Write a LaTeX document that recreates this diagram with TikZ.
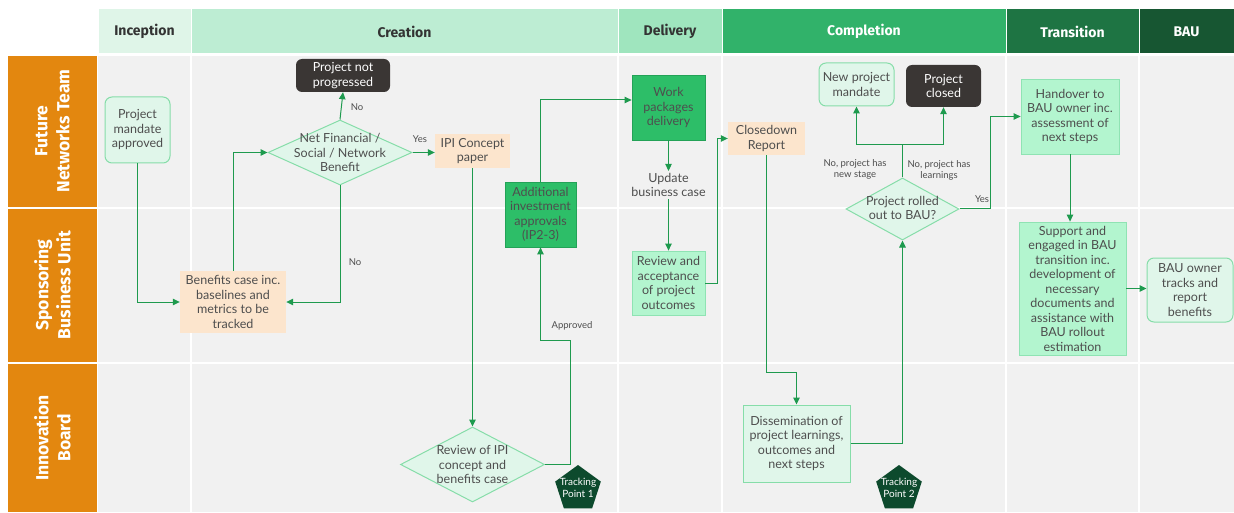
\documentclass[tikz,border=0pt]{standalone}
\usepackage{fontspec}
\setmainfont{Lato}
\newfontfamily\hdrfont{Fira Sans}
\usetikzlibrary{arrows.meta,shapes.geometric}
\definecolor{lanebg}{HTML}{F1F1F1}
\definecolor{orangelane}{HTML}{E3870F}
\definecolor{hInc}{HTML}{DFF5E8}
\definecolor{hCre}{HTML}{BDEDD3}
\definecolor{hDel}{HTML}{9FE5BE}
\definecolor{hCom}{HTML}{31B26A}
\definecolor{hTra}{HTML}{1E7443}
\definecolor{hBau}{HTML}{175632}
\definecolor{mintfill}{HTML}{E0F6EA}
\definecolor{mintdraw}{HTML}{86DDA9}
\definecolor{darkbox}{HTML}{3A3634}
\definecolor{peach}{HTML}{FCE5CD}
\definecolor{gfill}{HTML}{2DBE68}
\definecolor{gdraw}{HTML}{23A257}
\definecolor{lgfill}{HTML}{B3F5CF}
\definecolor{lgdraw}{HTML}{8FE3B3}
\definecolor{conn}{HTML}{1E9A4E}
\definecolor{tpcol}{HTML}{0D4A2D}
\definecolor{txt}{HTML}{4E4E4E}
\definecolor{hdrtxt}{HTML}{333333}
\tikzset{
  hdr/.style={inner sep=0pt, minimum height=45pt, draw=white, line width=1pt,
    font=\hdrfont\bfseries\fontsize{14}{16}\selectfont},
  lanelbl/.style={inner sep=0pt, fill=orangelane},
  lanetxt/.style={rotate=90, text=white, align=center, inner sep=0pt,
    font=\hdrfont\bfseries\fontsize{17.5}{22}\selectfont},
  base/.style={inner sep=0pt, align=center, text=txt, font=\fontsize{12.5}{14.5}\selectfont},
  mintbox/.style={base, fill=mintfill, draw=mintdraw, line width=1pt, rounded corners=7pt},
  darkrbox/.style={base, fill=darkbox, text=white, rounded corners=6pt},
  peachbox/.style={base, fill=peach},
  greenbox/.style={base, fill=gfill, draw=gdraw, line width=0.8pt},
  lgbox/.style={base, fill=lgfill, draw=lgdraw, line width=0.8pt},
  dmint/.style={base, fill=mintfill, draw=mintdraw, line width=1pt},
  diashape/.style={diamond, inner sep=0pt, fill=mintfill, draw=mintdraw, line width=1pt},
  tpshape/.style={regular polygon, regular polygon sides=5, minimum size=48pt, inner sep=0pt, fill=tpcol},
  tptext/.style={inner sep=0pt, align=center, text=white, font=\fontsize{10}{11.5}\selectfont},
  small/.style={inner sep=1pt, text=txt, align=center, font=\fontsize{9.5}{11}\selectfont},
  conn/.style={draw=conn, line width=1pt, -{Triangle[length=7pt,width=6.5pt]}},
  plainconn/.style={draw=conn, line width=1pt}
}
\begin{document}
\begin{tikzpicture}[x=1pt,y=-1pt]
\useasboundingbox (0,0) rectangle (1234,513);
\fill[white] (0,0) rectangle (1234,513);
% lane background
\fill[lanebg] (98,56) rectangle (1234,512);
\foreach \xx in {191,618,722,1006,1139}{\draw[white,line width=2pt] (\xx,56) -- (\xx,512);}
\foreach \yy in {208,363}{\draw[white,line width=2pt] (98,\yy) -- (1234,\yy);}
% headers
\node[hdr, fill=hInc, text=hdrtxt, minimum width=93pt] (hInc) at (144.5,31.5) {Inception};
\node[hdr, fill=hCre, text=hdrtxt, minimum width=427pt] (hCre) at (404.5,31.5) {Creation};
\node[hdr, fill=hDel, text=hdrtxt, minimum width=104pt] (hDel) at (670,31.5) {Delivery};
\node[hdr, fill=hCom, text=white, minimum width=284pt] (hCom) at (864,31.5) {Completion};
\node[hdr, fill=hTra, text=white, minimum width=133pt] (hTra) at (1072.5,31.5) {Transition};
\node[hdr, fill=hBau, text=white, minimum width=95pt] (hBau) at (1186.5,31.5) {BAU};
% lane labels
\node[lanelbl, minimum width=89pt, minimum height=151pt] (lFNT) at (52.5,132) {};
\node[lanetxt] (tFNT) at (52.5,131) {Future\\Networks Team};
\node[lanelbl, minimum width=89pt, minimum height=153pt] (lSBU) at (52.5,286) {};
\node[lanetxt] (tSBU) at (52.5,285) {Sponsoring\\Business Unit};
\node[lanelbl, minimum width=89pt, minimum height=148pt] (lIB) at (52.5,438) {};
\node[lanetxt] (tIB) at (52.5,438) {Innovation\\Board};
\draw[white,line width=2pt] (8,208) -- (97,208) (8,363) -- (97,363);
% nodes
\node[mintbox, minimum width=65pt, minimum height=66pt] (pma) at (137.5,130) {Project\\mandate\\approved};
\node[darkrbox, minimum width=94pt, minimum height=33pt] (pnp) at (343,75.5) {Project not\\progressed};
\node[diashape, minimum width=144pt, minimum height=65pt] (netdia) at (340,152.5) {};
\node[base] (nettxt) at (340,152.5) {Net Financial /\\Social / Network\\Benefit};
\node[peachbox, minimum width=75pt, minimum height=34pt] (ipi) at (472.5,151) {IPI Concept\\paper};
\node[peachbox, minimum width=106pt, minimum height=62pt] (ben) at (233,302) {Benefits case inc.\\baselines and\\metrics to be\\tracked};
\node[greenbox, minimum width=71pt, minimum height=65pt] (aia) at (540.5,214.5) {Additional\\investment\\approvals\\(IP2-3)};
\node[greenbox, minimum width=73pt, minimum height=65pt] (wpd) at (668.5,107.5) {Work\\packages\\delivery};
\node[base, inner sep=2pt] (ubc) at (668.5,185) {Update\\business case};
\node[lgbox, minimum width=73pt, minimum height=64pt] (rap) at (668.5,283) {Review and\\acceptance\\of project\\outcomes};
\node[peachbox, minimum width=77pt, minimum height=33pt] (cdr) at (766.5,138.5) {Closedown\\Report};
\node[mintbox, minimum width=75pt, minimum height=43pt] (npm) at (856.5,84.5) {New project\\mandate};
\node[darkrbox, minimum width=75pt, minimum height=42pt] (pcl) at (943.5,86) {Project\\closed};
\node[diashape, minimum width=113pt, minimum height=62pt] (rbau) at (902.5,209) {};
\node[base] (rbautxt) at (902.5,208) {Project rolled\\out to BAU?};
\node[lgbox, minimum width=98pt, minimum height=75pt] (hov) at (1070,116.5) {Handover to\\BAU owner inc.\\assessment of\\next steps};
\node[lgbox, minimum width=107pt, minimum height=133pt] (sup) at (1072.5,288.5) {Support and\\engaged in BAU\\transition inc.\\development of\\necessary\\documents and\\assistance with\\BAU rollout\\estimation};
\node[mintbox, minimum width=86pt, minimum height=64pt] (bauo) at (1190,290) {BAU owner\\tracks and\\report\\benefits};
\node[diashape, minimum width=144pt, minimum height=75pt] (revdia) at (472.5,464.5) {};
\node[base] (revtxt) at (472.5,464.5) {Review of IPI\\concept and\\benefits case};
\node[dmint, minimum width=107pt, minimum height=77pt] (dis) at (796.5,443.5) {Dissemination of\\project learnings,\\outcomes and\\next steps};
\node[tpshape] (tp1) at (578,489) {};
\node[tptext] (tp1t) at (578,488) {Tracking\\Point 1};
\node[tpshape] (tp2) at (899,489) {};
\node[tptext] (tp2t) at (899,488) {Tracking\\Point 2};
% coordinates
\coordinate (ap1) at (570,340);
\coordinate (k1) at (717,283);
\coordinate (c1) at (766.5,372);
\coordinate (c2) at (796.5,372);
\coordinate (b1) at (902.5,145);
\coordinate (yc) at (990,170);
% connectors
\draw[conn] (pma.south) |- (ben.west);
\draw[conn] (ben.north) |- (netdia.west);
\draw[conn] (netdia.north) -- (pnp.south);
\node[small] (lNo1) at (357,107) {No};
\draw[conn] (netdia.east) -- (ipi.west |- netdia.east);
\node[small] (lYes1) at (420,139) {Yes};
\draw[conn] (netdia.south) |- (ben.east);
\node[small] (lNo2) at (355,262) {No};
\draw[conn] (ipi.south) -- (revdia.north);
\draw[conn] (revdia.east) -| (ap1) -| (aia.south);
\node[small] (lApp) at (572,326) {Approved};
\draw[conn] (aia.north) |- ([yshift=7.5pt]wpd.west);
\draw[conn] (wpd.south) -- (ubc.north);
\draw[conn] (ubc.south) -- (rap.north);
\draw[conn] (rap.east) -- (k1) |- (cdr.west);
\draw[conn] (cdr.south) -- (c1) -- (c2) -- (dis.north);
\draw[conn] (dis.east) -| (rbau.south);
\draw[plainconn] (rbau.north) -- (b1);
\draw[conn] (b1) -| (npm.south);
\draw[conn] (b1) -| (pcl.south);
\node[small] (lNew) at (855,169) {No, project has\\new stage};
\node[small] (lLearn) at (939,170) {No, project has\\learnings};
\draw[conn] (rbau.east) -| (yc) |- (hov.west);
\node[small] (lYes2) at (982,199) {Yes};
\draw[conn] (hov.south) -- (hov.south |- sup.north);
\draw[conn] (sup.east) -- (sup.east -| bauo.west);
\end{tikzpicture}
\end{document}
